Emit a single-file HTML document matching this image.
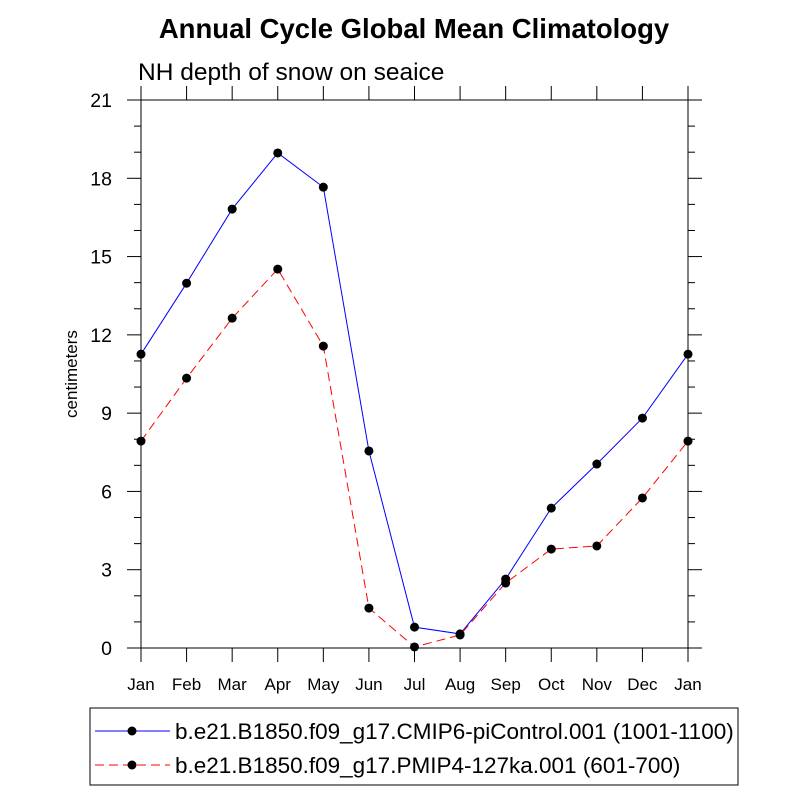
<!DOCTYPE html>
<html><head><meta charset="utf-8"><style>
body{margin:0;background:#fff}
svg{font-family:"Liberation Sans",sans-serif}
</style></head><body>
<svg id="chart" width="800" height="800" viewBox="0 0 800 800">
<rect width="800" height="800" fill="#fff"/>
<text x="414" y="38" text-anchor="middle" font-size="27.5" font-weight="bold">Annual Cycle Global Mean Climatology</text>
<text x="138" y="80" font-size="24.5">NH depth of snow on seaice</text>
<text transform="translate(77,374) rotate(-90)" text-anchor="middle" font-size="17">centimeters</text>
<g id="axes"></g>
<g id="series"></g>
<rect x="90" y="708" width="648" height="77" fill="none" stroke="#000" stroke-width="1"/>
<g>
<line x1="95" y1="731" x2="170" y2="731" stroke="#0000ff" stroke-width="1"/>
<circle cx="132" cy="731" r="4.5" fill="#000"/>
<text x="175" y="739" font-size="22.5">b.e21.B1850.f09_g17.CMIP6-piControl.001 (1001-1100)</text>
</g>
<g>
<line x1="95" y1="765" x2="170" y2="765" stroke="#ff0000" stroke-width="1" stroke-dasharray="9,5"/>
<circle cx="132" cy="765" r="4.5" fill="#000"/>
<text x="175" y="773" font-size="22.5">b.e21.B1850.f09_g17.PMIP4-127ka.001 (601-700)</text>
</g>
</svg>
<script>
const months=["Jan","Feb","Mar","Apr","May","Jun","Jul","Aug","Sep","Oct","Nov","Dec","Jan"];
const yTicks=[0,3,6,9,12,15,18,21];
const piControl=[11.26,13.98,16.82,18.97,17.66,7.55,0.80,0.54,2.64,5.36,7.05,8.81,11.26];
const ka127=[7.93,10.34,12.64,14.52,11.57,1.53,0.04,0.50,2.49,3.79,3.91,5.75,7.93];
const L=141,R=688,T=100,B=648,NS="http://www.w3.org/2000/svg";
const xs=i=>L+(R-L)*i/(months.length-1);
const ys=v=>B-(B-T)*v/21;
function mk(tag,attrs,parent){const e=document.createElementNS(NS,tag);for(const k in attrs)e.setAttribute(k,attrs[k]);parent.appendChild(e);return e;}
const ax=document.getElementById('axes');
const frame=mk('rect',{x:L,y:T,width:R-L,height:B-T,fill:'none',stroke:'#000','stroke-width':1},ax);


for(let v=0;v<=21;v++){const y=ys(v);const len=yTicks.includes(v)?14:7;
mk('line',{x1:L-len,y1:y,x2:L,y2:y,stroke:'#000'},ax);mk('line',{x1:R,y1:y,x2:R+len,y2:y,stroke:'#000'},ax);}
yTicks.forEach(v=>{const t=mk('text',{x:L-29,y:ys(v)+7,'text-anchor':'end','font-size':19.5},ax);t.textContent=v;

});
months.forEach((m,i)=>{const x=xs(i);mk('line',{x1:x,y1:B,x2:x,y2:B+14,stroke:'#000'},ax);mk('line',{x1:x,y1:T,x2:x,y2:T-14,stroke:'#000'},ax);
const t=mk('text',{x:x,y:B+42,'text-anchor':'middle','font-size':17},ax);t.textContent=m;

});
const sg=document.getElementById('series');
function draw(vals,color,dash,name){const g=mk('g',{},sg);


mk('polyline',{points:vals.map((v,i)=>xs(i)+','+ys(v)).join(' '),fill:'none',stroke:color,'stroke-width':1,'stroke-dasharray':dash},g);
vals.forEach((v,i)=>{const c=mk('circle',{cx:xs(i),cy:ys(v),r:4.5,fill:'#000'},g);

});}
draw(piControl,'#0000ff','none','series-picontrol');
draw(ka127,'#ff0000','9,5','series-127ka');
</script>
</body></html>
